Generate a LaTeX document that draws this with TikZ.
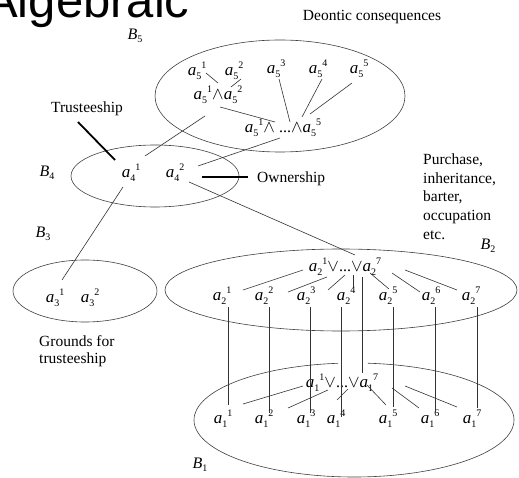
\documentclass[tikz,border=0pt]{standalone}
\usepackage{fontspec}
\setmainfont{Liberation Serif}
\newfontfamily\headsans{Liberation Sans}
\usetikzlibrary{calc}

% small digits for indices
\newcommand\digsz{\fontsize{10}{10}\selectfont}
% element a with lower index and upper index set one after the other
\newcommand\av[2]{{\fontsize{17}{17}\selectfont\itshape a}\raisebox{-4pt}{\digsz #1}\raisebox{7pt}{\digsz #2}}
% set label B_k
\newcommand\bl[1]{{\itshape B}\raisebox{-3pt}{\digsz #1}}

\begin{document}
\begin{tikzpicture}[x=1pt,y=-1pt,
  txt/.style={font=\fontsize{15.5}{18.7}\selectfont, inner sep=0pt},
  el/.style={font=\fontsize{16}{18}\selectfont, anchor=base, inner sep=0pt},
  conn/.style={line width=0.6pt, black!80},
  ptr/.style={line width=1.8pt, black},
  ring/.style={line width=0.6pt, black!75}]
\useasboundingbox (0,0) rectangle (519,478);
\fill[white] (0,0) rectangle (519,478);

% heading and free texts
\node[anchor=base west, inner sep=0pt, font=\headsans\fontsize{49}{49}\selectfont] (head) at (-15,18) {Algebraic};
\node[txt, anchor=base] (deon) at (372,21) {Deontic consequences};
\node[txt, anchor=base] (trust) at (87,113) {Trusteeship};
\node[txt, anchor=base west] (own) at (257,183) {Ownership};
\node[txt, anchor=north west, align=left] (purch) at (423,153.5) {Purchase,\\inheritance,\\barter,\\occupation\\etc.};
\node[txt, anchor=north west, align=left, font=\fontsize{15.5}{17}\selectfont] (grounds) at (39,335.4) {Grounds for\\trusteeship};

% set labels
\node[el] (b5) at (135,40) {\bl5};
\node[el] (b4) at (47,177) {\bl4};
\node[el] (b3) at (43,238) {\bl3};
\node[el] (b2) at (488,250) {\bl2};
\node[el] (b1) at (200,468) {\bl1};

% the five sets
\draw[ring] (280,96) ellipse [x radius=125, y radius=56];
\draw[ring] (155,176) ellipse [x radius=84, y radius=31];
\draw[ring] (85,291) ellipse [x radius=72, y radius=31];
\draw[ring] (341,290) ellipse [x radius=176, y radius=41];
\draw[ring] (354,420) ++(275:160 and 57) arc[start angle=275, end angle=624.3, x radius=160, y radius=57];

% B5
\node[el] (a51) at (197,76) {\av51};
\node[el] (a52) at (234,76) {\av52};
\node[el] (a53) at (276,74) {\av53};
\node[el] (a54) at (318,74) {\av54};
\node[el] (a55) at (359,74) {\av55};
\node[el] (c12) at (218,100) {\av51$\wedge$\av52};
\node[el] (c15) at (283,133) {\av51$\wedge$ ...$\wedge$\av55};
% B4
\node[el] (a41) at (131,178) {\av41};
\node[el] (a42) at (175,178) {\av42};
% B3
\node[el] (a31) at (55,302) {\av31};
\node[el] (a32) at (90,302) {\av32};
% B2
\node[el] (d2) at (345,272) {\av21$\vee$...$\vee$\av27};
\foreach \k/\x in {1/222,2/264,3/306,4/346,5/388,6/431,7/471}
  \node[el] (a2\k) at (\x,300) {\av2\k};
% B1
\node[el] (d1) at (342,387) {\av11$\vee$...$\vee$\av17};
\foreach \k/\x in {1/223,2/264,3/306,4/336,5/388,6/430,7/472}
  \node[el] (a1\k) at (\x,423) {\av1\k};

% connectors inside B5 and down to B4
\draw[conn] ($(a51.base)+(9,-3)$) -- ($(c12.base)+(0,-17)$);
\draw[conn] ($(a52.base)+(7,3)$) -- ($(c12.base)+(13,-13)$);
\draw[conn] ($(c12.base)+(2,7)$) -- ($(c15.base)+(-8,-11)$);
\draw[conn] ($(a53.base)+(3,5)$) -- ($(c15.base)+(7,-11)$);
\draw[conn] ($(a54.base)+(4,5)$) -- ($(c15.base)+(19,-16)$);
\draw[conn] ($(a55.base)+(-7,9)$) -- ($(c15.base)+(27,-19)$);
\draw[conn] ($(c12.base)+(-13,16)$) -- ($(a41.base)+(14,-22)$);
\draw[conn] ($(c15.base)+(-3,5)$) -- ($(a42.base)+(23,-12)$);
% B4 to B2 and B3
\draw[conn] ($(a42.base)+(14,4)$) -- ($(d2.base)+(10,-17)$);
\draw[conn] ($(a41.base)+(-8,9)$) -- ($(a31.base)+(7,-22)$);
% pointers from the labels
\draw[ptr] ($(trust.base)+(-9,9)$) -- ($(a41.base)+(-16,-18)$);
\draw[ptr] ($(a42.base)+(27,-1)$) -- ($(own.base west)+(-9,-6)$);

% B2
\draw[conn] ($(a21.base)+(21,-10)$) -- ($(d2.base)+(-42,-2)$);
\draw[conn] ($(a22.base)+(24,-8)$) -- ($(d2.base)+(-18,5)$);
\draw[conn] ($(a23.base)+(22,-10)$) -- ($(d2.base)+(0,3)$);
\draw[conn] ($(a24.base)+(7,-13)$) -- ($(d2.base)+(8,3)$);
\draw[conn] ($(a25.base)+(1,-11)$) -- ($(d2.base)+(25,1)$);
\draw[conn] ($(a26.base)+(-11,-8)$) -- ($(d2.base)+(47,1)$);
\draw[conn] ($(a27.base)+(-14,-10)$) -- ($(d2.base)+(60,-2)$);
\draw[conn] ($(d2.base)+(17,5)$) -- ($(d1.base)+(20,-14)$);

% B2 to B1
\draw[conn] ($(a21.base)+(6,7)$) -- ($(a11.base)+(5,-18)$);
\draw[conn] ($(a22.base)+(5,7)$) -- ($(a12.base)+(5,-10)$);
\draw[conn] ($(a23.base)+(4,7)$) -- ($(a13.base)+(4,-10)$);
\draw[conn] ($(a24.base)+(-5,7)$) -- ($(a14.base)+(5,-6)$);
\draw[conn] ($(a25.base)+(5,7)$) -- ($(a15.base)+(5,-16)$);
\draw[conn] ($(a26.base)+(4,7)$) -- ($(a16.base)+(5,-11)$);
\draw[conn] ($(a27.base)+(6,7)$) -- ($(a17.base)+(5,-15)$);

% B1
\draw[conn] ($(a11.base)+(20,-19)$) -- ($(d1.base)+(-39,-1)$);
\draw[conn] ($(a12.base)+(24,-15)$) -- ($(d1.base)+(-14,3)$);
\draw[conn] ($(a13.base)+(31,-23)$) -- ($(d1.base)+(6,2)$);
\draw[conn] ($(a15.base)+(-2,-18)$) -- ($(d1.base)+(25,-2)$);
\draw[conn] ($(a16.base)+(-11,-15)$) -- ($(d1.base)+(50,1)$);
\draw[conn] ($(a17.base)+(-15,-16)$) -- ($(d1.base)+(63,-1)$);
\end{tikzpicture}
\end{document}
